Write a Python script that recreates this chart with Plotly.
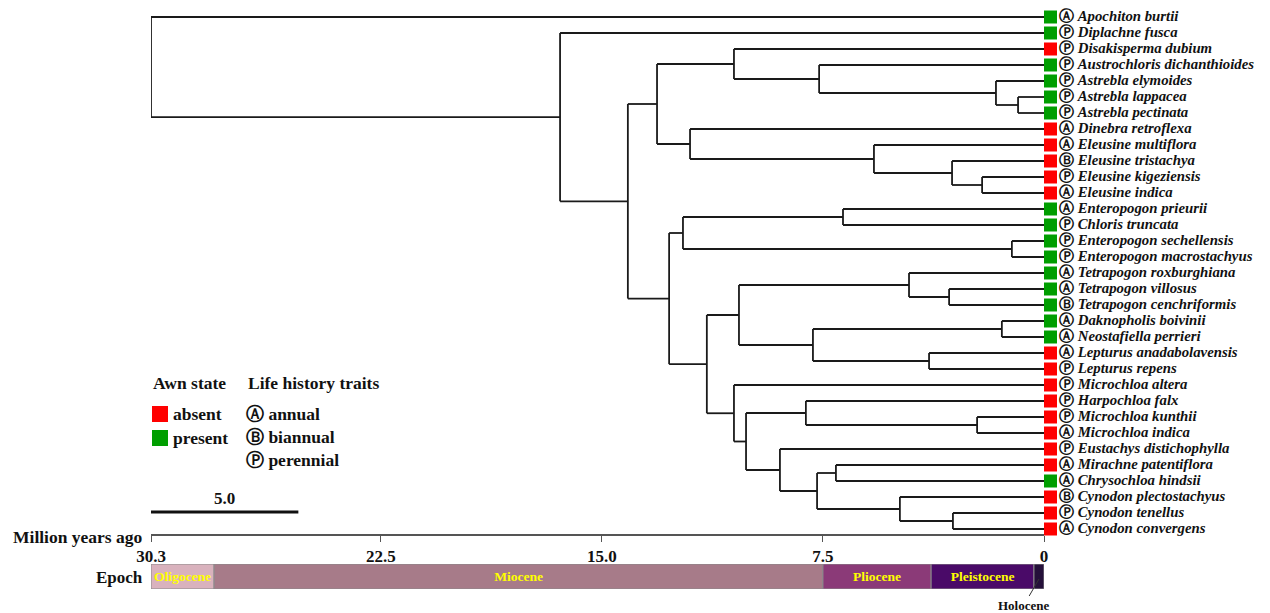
import plotly.graph_objects as go

# ---------------- data ----------------
taxa = [
    "Apochiton burtii", "Diplachne fusca", "Disakisperma dubium", "Austrochloris dichanthioides",
    "Astrebla elymoides", "Astrebla lappacea", "Astrebla pectinata", "Dinebra retroflexa",
    "Eleusine multiflora", "Eleusine tristachya", "Eleusine kigeziensis", "Eleusine indica",
    "Enteropogon prieurii", "Chloris truncata", "Enteropogon sechellensis", "Enteropogon macrostachyus",
    "Tetrapogon roxburghiana", "Tetrapogon villosus", "Tetrapogon cenchriformis", "Daknopholis boivinii",
    "Neostafiella perrieri", "Lepturus anadabolavensis", "Lepturus repens", "Microchloa altera",
    "Harpochloa falx", "Microchloa kunthii", "Microchloa indica", "Eustachys distichophylla",
    "Mirachne patentiflora", "Chrysochloa hindsii", "Cynodon plectostachyus", "Cynodon tenellus",
    "Cynodon convergens",
]
awn_state = [
    "present", "present", "absent", "present", "present", "present", "present", "absent",
    "absent", "absent", "absent", "absent", "present", "present", "present", "present",
    "present", "present", "present", "present", "present", "absent", "absent", "absent",
    "absent", "absent", "absent", "absent", "absent", "present", "absent", "absent", "absent",
]
life_history = [
    "A", "P", "P", "P", "P", "P", "P", "A",
    "A", "B", "P", "A", "A", "P", "P", "P",
    "A", "A", "B", "A", "A", "A", "P", "P",
    "P", "P", "A", "P", "A", "A", "B", "P", "A",
]

# internal nodes: name, age (Ma), children (int = tip index, str = node name)
node_names = ["root", "n1", "n2", "n3", "n5", "n7", "n8", "n9", "n6", "n10", "n11", "n12",
              "n4", "n13", "n15", "n16", "n14", "n17", "n19", "n21", "n20", "n22", "n23",
              "n18", "n24", "n25", "n27", "n26", "n28", "n29", "n30", "n31"]
node_ages = [30.3, 16.42, 14.12, 13.13, 10.52, 7.63, 1.63, 0.88, 12.01, 5.77, 3.12, 2.10,
             12.72, 12.25, 6.82, 1.09, 11.44, 10.35, 4.58, 3.22, 7.84, 1.43, 3.90,
             10.52, 10.11, 8.08, 2.27, 8.96, 7.70, 7.06, 4.89, 3.09]
node_children = [(0, "n1"), (1, "n2"), ("n3", "n4"), ("n5", "n6"), (2, "n7"), (3, "n8"), (4, "n9"),
                 (5, 6), (7, "n10"), (8, "n11"), (9, "n12"), (10, 11),
                 ("n13", "n14"), ("n15", "n16"), (12, 13), (14, 15), ("n17", "n18"), ("n19", "n20"),
                 (16, "n21"), (17, 18), ("n22", "n23"), (19, 20), (21, 22),
                 (23, "n24"), ("n25", "n26"), (24, "n27"), (25, 26), (27, "n28"), ("n29", "n30"),
                 (28, 29), (30, "n31"), (31, 32)]

epoch_names = ["Oligocene", "Miocene", "Pliocene", "Pleistocene", "Holocene"]
epoch_start = [30.3, 28.16, 7.50, 3.83, 0.34]
epoch_end = [28.16, 7.50, 3.83, 0.34, 0.0]
epoch_colors = ["#d9b2bd", "#a77b89", "#8b3a78", "#4a0a68", "#25103a"]

tick_values = [30.3, 22.5, 15.0, 7.5, 0.0]
tick_labels = ["30.3", "22.5", "15.0", "7.5", "0"]
scale_bar_length = 5.0

circled = {"A": "Ⓐ", "B": "Ⓑ", "P": "Ⓟ"}
awn_colors = {"absent": "#ff0000", "present": "#009e00"}

# ---------------- tree geometry ----------------
age_of = dict(zip(node_names, node_ages))
kids = dict(zip(node_names, node_children))
ypos = {}


def get_y(c):
    if isinstance(c, int):
        return float(c)
    if c not in ypos:
        a, b = kids[c]
        ypos[c] = (get_y(a) + get_y(b)) / 2.0
    return ypos[c]


def get_age(c):
    return 0.0 if isinstance(c, int) else age_of[c]


lx, ly = [], []
for n in node_names:
    a, b = kids[n]
    ya, yb = get_y(a), get_y(b)
    lx += [age_of[n], age_of[n], None]
    ly += [ya, yb, None]
    for c in (a, b):
        lx += [age_of[n], get_age(c), None]
        ly += [get_y(c), get_y(c), None]

SERIF = "Liberation Serif, Times New Roman, serif"
W, H = 1270, 613
OFF = 8  # page body margin
TOP_TIP, BOT_TIP, AXIS_Y = 17, 529, 534
STEP = (BOT_TIP - TOP_TIP) / (len(taxa) - 1)


def px(x):
    return (x - OFF) / W


def py(y):
    return 1 - (y - OFF) / H


fig = go.Figure()

fig.add_trace(go.Scatter(x=lx, y=ly, mode="lines", line=dict(color="#1a1a1a", width=1.8),
                         hoverinfo="skip", showlegend=False))

# tip area uses its own x axis (units = pixels right of the present-day line)
tip_y = list(range(len(taxa)))
fig.add_trace(go.Scatter(
    x=[6.5] * len(taxa), y=tip_y, mode="markers", xaxis="x3", cliponaxis=False,
    marker=dict(symbol="square", size=13, color=[awn_colors[s] for s in awn_state]),
    showlegend=False, hoverinfo="skip"))
fig.add_trace(go.Scatter(
    x=[15] * len(taxa), y=tip_y, mode="text", xaxis="x3", cliponaxis=False,
    text=[f"{circled[l]} <i>{t}</i>" for l, t in zip(life_history, taxa)],
    textposition="middle right",
    textfont=dict(family=SERIF, size=14.8, color="#111", weight="bold"),
    showlegend=False, hoverinfo="skip"))

# epoch bar
fig.add_trace(go.Bar(
    y=[0] * len(epoch_names), x=[s - e for s, e in zip(epoch_start, epoch_end)], base=epoch_end,
    orientation="h", width=[1] * len(epoch_names), yaxis="y2",
    marker=dict(color=epoch_colors, line=dict(color="#8a8a8a", width=1)),
    text=[n if n != "Holocene" else "" for n in epoch_names],
    textposition="inside", insidetextanchor="middle", constraintext="none",
    textfont=dict(family=SERIF, size=13.5, color="#ffff00", weight="bold"),
    showlegend=False, hoverinfo="skip"))

fig.update_layout(
    width=W, height=H, autosize=False,
    margin=dict(l=0, r=0, t=0, b=0, autoexpand=False),
    plot_bgcolor="white", paper_bgcolor="white",
    barmode="overlay",
    xaxis=dict(domain=[px(151), px(1044)], range=[30.3, 0], tickvals=tick_values, ticktext=tick_labels,
               showline=True, linecolor="#555", linewidth=1.5, ticks="outside", ticklen=6,
               tickcolor="#555", showgrid=False, zeroline=False, automargin=False,
               tickfont=dict(family=SERIF, size=17, color="#111", weight="bold"), anchor="y"),
    xaxis3=dict(domain=[px(1044), 1], range=[0, W - (1044 - OFF)], visible=False, anchor="y",
                automargin=False),
    yaxis=dict(domain=[py(AXIS_Y), 1],
               range=[len(taxa) - 1 + (AXIS_Y - BOT_TIP) / STEP, (OFF - TOP_TIP) / STEP],
               visible=False, showgrid=False, zeroline=False, automargin=False),
    yaxis2=dict(domain=[py(589), py(564)], range=[-0.5, 0.5], visible=False, anchor="x",
                automargin=False),
)

ann = []


def pa(x, y, text, size=17.5, xanchor="left", weight="bold", color="#111"):
    ann.append(dict(x=px(x), y=py(y), xref="paper", yref="paper", text=text, showarrow=False,
                    xanchor=xanchor, yanchor="middle",
                    font=dict(family=SERIF, size=size, color=color, weight=weight)))


pa(145, 537, "Million years ago", xanchor="right")
pa(145, 577, "Epoch", size=17, xanchor="right")
pa(151, 383, "Awn state")
pa(246, 383, "Life history traits")
pa(171, 414, "absent")
pa(171, 438, "present")
pa(244, 414, "Ⓐ annual")
pa(244, 437, "Ⓑ biannual")
pa(244, 460, "Ⓟ perennial")

ann.append(dict(x=30.3 - scale_bar_length / 2, y=py(498), xref="x", yref="paper", text="5.0",
                showarrow=False, yanchor="middle",
                font=dict(family=SERIF, size=17, color="#111", weight="bold")))
ann.append(dict(x=0.17, y=-0.1, xref="x", yref="y2", text="Holocene", showarrow=True, arrowhead=0,
                arrowwidth=1, arrowcolor="#333", ax=-15, ay=26,
                font=dict(family=SERIF, size=13, color="#111", weight="bold")))
fig.update_layout(annotations=ann)

shapes = [
    dict(type="line", xref="x", yref="paper", x0=30.3, x1=30.3 - scale_bar_length,
         y0=py(512), y1=py(512), line=dict(color="#111", width=3)),
    dict(type="rect", xref="paper", yref="paper", x0=px(152), x1=px(168), y0=py(422), y1=py(406),
         fillcolor=awn_colors["absent"], line=dict(width=0)),
    dict(type="rect", xref="paper", yref="paper", x0=px(152), x1=px(168), y0=py(446), y1=py(430),
         fillcolor=awn_colors["present"], line=dict(width=0)),
]
fig.update_layout(shapes=shapes)

fig.write_html("out.html")
